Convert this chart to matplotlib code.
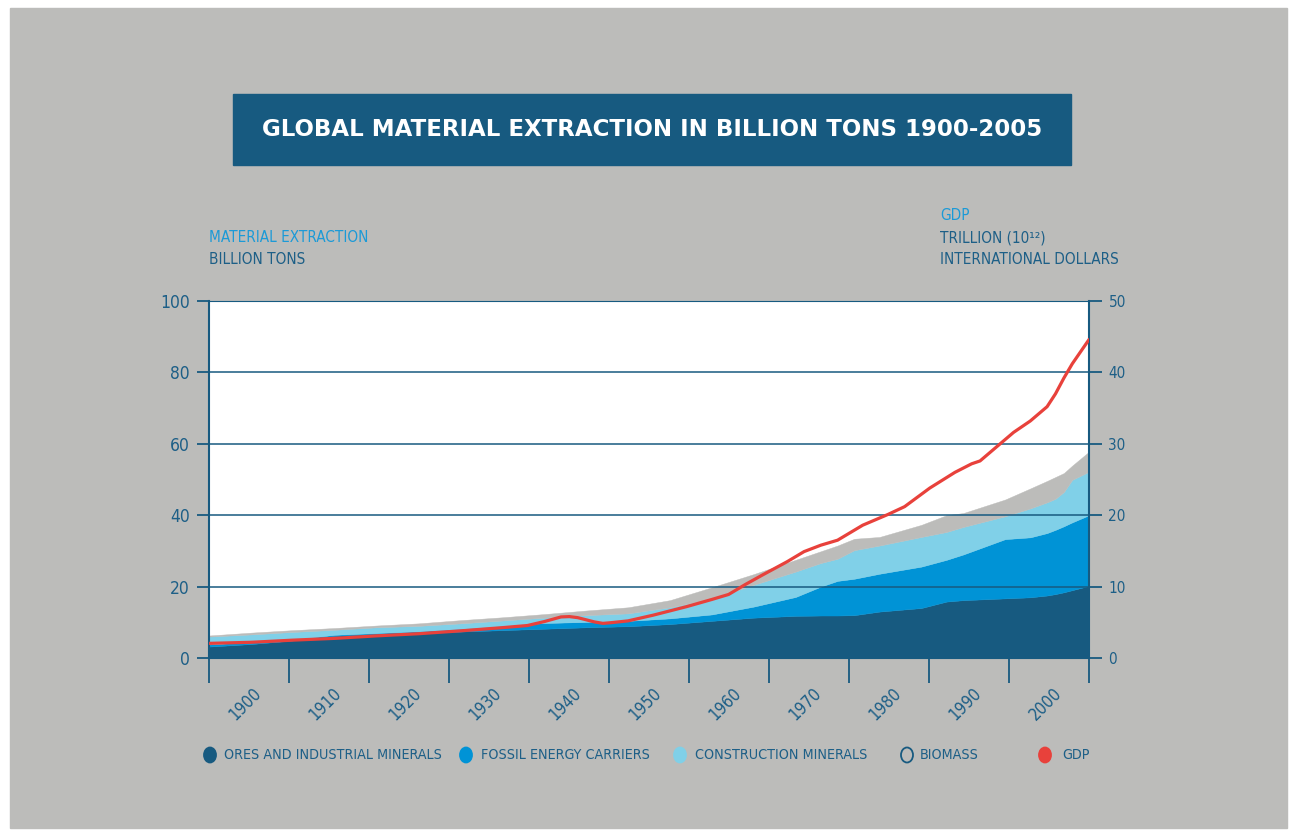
import matplotlib
matplotlib.use("Agg")
import matplotlib.pyplot as plt
from matplotlib.patches import Rectangle, Ellipse
import numpy as np

# ---- data: material extraction (billion tons) ----
years = [1900, 1905, 1910, 1915, 1920, 1925, 1930, 1935, 1940, 1945, 1950, 1955,
         1960, 1965, 1970, 1973, 1975, 1977, 1980, 1985, 1988, 1990, 1995, 1998,
         2000, 2001, 2002, 2003, 2005]
ores = [3.2, 3.9, 4.9, 6.2, 6.8, 7.2, 7.4, 7.8, 8.2, 8.6, 8.9, 9.5,
        10.4, 11.3, 11.8, 11.9, 11.9, 12.0, 13.0, 14.0, 15.8, 16.2, 16.7, 17.0,
        17.5, 17.9, 18.4, 19.0, 20.2]
fossil = [0.6, 0.6, 0.3, 0.3, 0.2, 0.3, 0.8, 1.2, 1.6, 1.5, 1.5, 1.6,
          1.8, 3.1, 5.3, 8.1, 9.7, 10.2, 10.6, 11.6, 11.7, 12.8, 16.6, 16.8,
          17.5, 18.0, 18.5, 19.0, 19.8]
construction = [2.2, 2.1, 2.1, 1.4, 1.6, 1.5, 1.5, 1.5, 1.5, 1.9, 2.1, 3.1,
                4.4, 6.1, 7.1, 6.6, 6.2, 8.0, 7.9, 8.3, 7.8, 7.7, 6.4, 8.1,
                8.6, 8.7, 9.6, 11.9, 12.2]
biomass = [0.3, 0.5, 0.5, 0.5, 0.5, 0.7, 0.9, 0.9, 1.0, 1.3, 1.7, 2.0,
           3.2, 3.0, 3.3, 3.3, 3.7, 3.2, 2.4, 3.4, 4.7, 3.9, 4.7, 5.6,
           6.0, 6.1, 5.3, 4.0, 5.6]

# ---- data: GDP (trillion international dollars) ----
gdp_years = [1900, 1905, 1910, 1915, 1920, 1925, 1930, 1935, 1938, 1940, 1942,
             1943, 1944, 1946, 1947, 1948, 1950, 1953, 1957, 1960, 1962, 1964,
             1966, 1969, 1971, 1973, 1975, 1978, 1981, 1983, 1986, 1989, 1991,
             1992, 1994, 1996, 1998, 2000, 2001, 2002, 2003, 2005]
gdp = [2.05, 2.2, 2.5, 2.75, 3.1, 3.4, 3.8, 4.25, 4.55, 5.1, 5.75,
       5.8, 5.65, 5.05, 4.85, 4.95, 5.2, 6.0, 7.2, 8.2, 8.9, 10.3,
       11.6, 13.5, 14.9, 15.8, 16.5, 18.6, 20.1, 21.2, 23.8, 26.0, 27.2,
       27.6, 29.6, 31.6, 33.2, 35.2, 37.0, 39.2, 41.2, 44.6]

decade_labels = ["1900", "1910", "1920", "1930", "1940", "1950",
                 "1960", "1970", "1980", "1990", "2000"]
legend_labels = ["ORES AND INDUSTRIAL MINERALS", "FOSSIL ENERGY CARRIERS",
                 "CONSTRUCTION MINERALS", "BIOMASS", "GDP"]

# colours
DARK = "#175a80"
TEXT = "#1d5f87"
FOSSIL = "#0093d6"
CONSTR = "#80d0e8"
GREY = "#bcbcba"
LIGHT_TXT = "#1b9ad7"
RED = "#e8413b"

# narrow lettering for labels
plt.rcParams["font.family"] = ["DejaVu Sans"]
plt.rcParams["font.stretch"] = "condensed"

W, H = 1295, 836
fig = plt.figure(figsize=(W / 100, H / 100), dpi=100, facecolor="white")

# grey backdrop
fig.add_artist(Rectangle((10 / W, 8 / H), 1277 / W, 820 / H,
                         transform=fig.transFigure, color=GREY, zorder=0))

# title banner
fig.add_artist(Rectangle((233 / W, (H - 165) / H), 838 / W, 71 / H,
                         transform=fig.transFigure, color=DARK, zorder=1))
fig.text(652 / W, (H - 129) / H, "GLOBAL MATERIAL EXTRACTION IN BILLION TONS 1900-2005",
         color="white", fontsize=16.5, fontweight="bold", fontstretch="normal",
         ha="center", va="center", zorder=2)

ax = fig.add_axes([209 / W, (H - 658) / H, 880 / W, 357 / H])
ax.set_facecolor("white")
ax.stackplot(years, ores, fossil, construction, biomass,
             colors=[DARK, FOSSIL, CONSTR, GREY], linewidth=0.3,
             edgecolor="face")
ax.set_xlim(1900, 2005)
ax.set_ylim(0, 100)
ax.set_yticks(range(0, 101, 20))
for v in range(20, 100, 20):
    ax.axhline(v, color=DARK, lw=1.1, zorder=3)

edges = np.linspace(1900, 2005, 12)
ax.set_xticks(edges)
ax.set_xticklabels([])
ax.tick_params(axis="x", length=18, width=1.3, color=DARK, direction="out")
ax.tick_params(axis="y", length=9, width=1.3, color=DARK, labelcolor=TEXT,
               labelsize=12.5, pad=5)
mids = (edges[:-1] + edges[1:]) / 2
for m, lab in zip(mids, decade_labels):
    ax.text(m - 0.4, -0.13, lab, transform=ax.get_xaxis_transform(),
            rotation=45, ha="center", va="center", rotation_mode="anchor",
            color=TEXT, fontsize=12)

for side in ["left", "right"]:
    ax.spines[side].set_color(DARK)
    ax.spines[side].set_linewidth(1.5)
ax.spines["top"].set_color(DARK)
ax.spines["top"].set_linewidth(0.8)
ax.spines["bottom"].set_color(DARK)

# GDP on the right-hand axis
ax2 = ax.twinx()
ax2.plot(gdp_years, gdp, color=RED, lw=2.3, solid_joinstyle="round",
         solid_capstyle="round", zorder=5)
ax2.set_ylim(0, 50)
ax2.set_yticks(range(0, 51, 10))
ax2.tick_params(axis="y", length=9, width=1.3, color=DARK, labelcolor=TEXT,
                labelsize=11, pad=5)
for side in ["left", "right", "top", "bottom"]:
    ax2.spines[side].set_visible(False)
ax2.set_xlim(1900, 2005)

# axis headings
fig.text(209 / W, (H - 238) / H, "MATERIAL EXTRACTION", color=LIGHT_TXT,
         fontsize=11, ha="left", va="center")
fig.text(209 / W, (H - 260) / H, "BILLION TONS", color=TEXT,
         fontsize=11, ha="left", va="center")
fig.text(940 / W, (H - 216) / H, "GDP", color=LIGHT_TXT,
         fontsize=11, ha="left", va="center")
fig.text(940 / W, (H - 238) / H, "TRILLION (10¹²)", color=TEXT,
         fontsize=11, ha="left", va="center")
fig.text(940 / W, (H - 259) / H, "INTERNATIONAL DOLLARS", color=TEXT,
         fontsize=11, ha="left", va="center")

# legend row
marker_x = [210, 466, 680, 907, 1045]
text_x = [224, 481, 695, 920, 1062]
faces = [DARK, FOSSIL, CONSTR, "none", RED]
edges_c = [DARK, FOSSIL, CONSTR, DARK, RED]
ly = (H - 755) / H
for mx, tx, fc, ec, lab in zip(marker_x, text_x, faces, edges_c, legend_labels):
    fig.add_artist(Ellipse((mx / W, ly), 12 / W, 15 / H, transform=fig.transFigure,
                           facecolor=fc, edgecolor=ec, lw=1.3, zorder=3))
    fig.text(tx / W, ly, lab, color=TEXT, fontsize=10.3, ha="left", va="center")

fig.savefig("out.png", dpi=100, facecolor="white")
